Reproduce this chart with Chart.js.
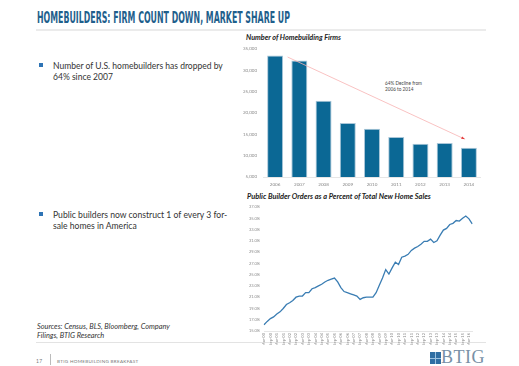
<!DOCTYPE html>
<html><head><meta charset="utf-8">
<script src="https://cdn.jsdelivr.net/npm/chart.js@4.4.1/dist/chart.umd.min.js"></script>
<style>
html,body{margin:0;padding:0;background:#fff;width:519px;height:366px;overflow:hidden;}
body{position:relative;font-family:Lato,'Open Sans',sans-serif;}
.abs{position:absolute;white-space:nowrap;}
#title{left:37px;top:11px;font-family:'Liberation Sans Narrow','DejaVu Sans Condensed','DejaVu Sans',sans-serif;font-stretch:condensed;font-weight:bold;font-size:15px;line-height:15px;color:#1f5f8c;transform-origin:0 0;}
#rule{left:36px;top:29px;width:450px;height:2px;background:#ebebeb;}
.bullet{width:4px;height:4px;background:#2e74b5;}
.btxt{font-size:8.6px;color:#333;line-height:11px;}
.ctitle{font-weight:bold;font-style:italic;color:#222;font-size:6.8px;line-height:8px;}
.note{font-size:4.6px;color:#444;line-height:6px;}
.src{font-style:italic;font-size:7.2px;color:#333;line-height:9px;}
#rule2{left:36px;top:342px;width:450px;height:1px;background:#e3e3e3;}
.foot{font-size:5px;color:#777;line-height:6px;letter-spacing:0.3px;}
#sep{left:50px;top:354px;width:1px;height:11px;background:#bbb;}
#logo{left:430px;top:352px;width:11px;height:12px;background:#2f6ea3;}
#logo .a{position:absolute;left:5px;top:0;width:1px;height:12px;background:#9cc2e0;}
#logo .b{position:absolute;left:0;top:6px;width:11px;height:1px;background:#9cc2e0;}
#logotxt{left:441px;top:348px;font-family:'Liberation Serif','DejaVu Serif',serif;font-size:18px;line-height:18px;color:#7890a6;letter-spacing:0.5px;}
canvas{position:absolute;}
</style></head>
<body>
<div id="title" class="abs">HOMEBUILDERS: FIRM COUNT DOWN, MARKET SHARE UP</div>
<div id="rule" class="abs"></div>

<div class="abs bullet" style="left:39px;top:63px;"></div>
<div class="abs btxt" data-w="170" style="left:53px;top:61px;">Number of U.S. homebuilders has dropped by</div>
<div class="abs btxt" style="left:53px;top:72px;">64% since 2007</div>

<div class="abs bullet" style="left:39px;top:212px;"></div>
<div class="abs btxt" style="left:53px;top:210px;">Public builders now construct 1 of every 3 for-</div>
<div class="abs btxt" style="left:53px;top:221px;">sale homes in America</div>

<div class="abs src" data-w="133" style="left:37px;top:322px;">Sources: Census, BLS, Bloomberg, Company</div>
<div class="abs src" style="left:37px;top:331px;">Filings, BTIG Research</div>
<div id="rule2" class="abs"></div>

<div class="abs foot" style="left:36px;top:358px;">17</div>
<div id="sep" class="abs"></div>
<div class="abs foot" data-w="81" style="left:57px;top:358px;">BTIG HOMEBUILDING BREAKFAST</div>
<div id="logo" class="abs"><div class="a"></div><div class="b"></div></div>
<div id="logotxt" class="abs">BTIG</div>

<div class="abs ctitle" data-w="95" style="left:246px;top:34px;">Number of Homebuilding Firms</div>
<div class="abs note" data-w="37" style="left:385px;top:80px;">64% Decline from</div>
<div class="abs note" style="left:385px;top:86px;">2006 to 2014</div>
<div class="abs ctitle" data-w="184" style="left:247px;top:193px;">Public Builder Orders as a Percent of Total New Home Sales</div>

<canvas id="bar" width="241" height="150" style="left:240px;top:40px;"></canvas>
<canvas id="line" width="239" height="145" style="left:240px;top:200px;"></canvas>

<script>
// ---- data ----
const years = ['2006','2007','2008','2009','2010','2011','2012','2013','2014'];
const firms = [33400, 32250, 22850, 17600, 16300, 14350, 12800, 12950, 11850];
const firmTickMin = 5000, firmTickMax = 35000, firmTickStep = 5000;

const quarters = [
 'Mar-00','Jun-00','Sep-00','Dec-00','Mar-01','Jun-01','Sep-01','Dec-01',
 'Mar-02','Jun-02','Sep-02','Dec-02','Mar-03','Jun-03','Sep-03','Dec-03',
 'Mar-04','Jun-04','Sep-04','Dec-04','Mar-05','Jun-05','Sep-05','Dec-05',
 'Mar-06','Jun-06','Sep-06','Dec-06','Mar-07','Jun-07','Sep-07','Dec-07',
 'Mar-08','Jun-08','Sep-08','Dec-08','Mar-09','Jun-09','Sep-09','Dec-09',
 'Mar-10','Jun-10','Sep-10','Dec-10','Mar-11','Jun-11','Sep-11','Dec-11',
 'Mar-12','Jun-12','Sep-12','Dec-12','Mar-13','Jun-13','Sep-13','Dec-13',
 'Mar-14','Jun-14','Sep-14','Dec-14','Mar-15','Jun-15','Sep-15','Dec-15',
 'Mar-16','Jun-16'];
const share = [
 16.1,16.7,17.2,17.5,18.0,18.4,19.0,19.7,20.0,20.4,21.0,21.2,21.2,21.8,21.8,22.5,
 22.7,23.0,23.3,23.7,24.0,24.2,24.4,23.7,22.7,22.0,21.8,21.6,21.4,21.2,20.6,20.9,
 21.0,21.0,21.0,21.8,23.1,24.4,25.9,25.1,26.2,27.2,26.8,28.1,28.3,28.6,29.3,29.7,
 30.0,30.4,30.9,30.9,31.3,30.7,31.0,32.0,32.9,33.2,33.9,34.1,34.6,34.5,35.0,35.4,
 34.9,34.0];
const shareTickMin = 15, shareTickMax = 37, shareTickStep = 2;

// ---- text fitting ----
document.querySelectorAll('[data-w]').forEach(el=>{
  const target = +el.dataset.w;
  const fs = parseFloat(getComputedStyle(el).fontSize);
  const w = el.getBoundingClientRect().width;
  const nfs = fs * target / w;
  el.style.fontSize = nfs + 'px';
  let nx = el.nextElementSibling;
  if (nx && nx.className === el.className && !nx.dataset.w) nx.style.fontSize = nfs + 'px';
});
(function(){
  const t = document.getElementById('title');
  const w = t.getBoundingClientRect().width;
  t.style.transform = 'scaleX(' + (253 / w) + ')';
})();

const FONT = "Lato, 'Open Sans', sans-serif";

const arrowPlugin = {
  id:'arrow',
  afterDatasetsDraw(c){
    const xs = c.scales.x, ys = c.scales.y, ctx = c.ctx;
    const x0 = xs.getPixelForValue(0) + 12.5, y0 = ys.getPixelForValue(firms[0]) + 1.5;
    const x1 = xs.getPixelForValue(years.length-1) - 5, y1 = ys.getPixelForValue(firms[years.length-1]) - 9;
    ctx.save();
    ctx.strokeStyle = '#f7b3b3';
    ctx.lineWidth = 0.8;
    ctx.beginPath(); ctx.moveTo(x0,y0); ctx.lineTo(x1,y1); ctx.stroke();
    const ang = Math.atan2(y1-y0, x1-x0);
    ctx.fillStyle = '#e53b3b';
    ctx.beginPath();
    ctx.moveTo(x1+1.5*Math.cos(ang), y1+1.5*Math.sin(ang));
    ctx.lineTo(x1-2.5*Math.cos(ang)+1.3*Math.sin(ang), y1-2.5*Math.sin(ang)-1.3*Math.cos(ang));
    ctx.lineTo(x1-2.5*Math.cos(ang)-1.3*Math.sin(ang), y1-2.5*Math.sin(ang)+1.3*Math.cos(ang));
    ctx.closePath(); ctx.fill();
    ctx.restore();
  }
};

new Chart(document.getElementById('bar'), {
  type:'bar',
  data:{labels:years, datasets:[{data:firms, backgroundColor:'#0b6895', borderColor:'#a9c6d8', borderWidth:1, barPercentage:0.66, categoryPercentage:1}]},
  options:{
    responsive:false, animation:false, devicePixelRatio:1,
    layout:{padding:{top:8,bottom:1,left:0,right:0}},
    plugins:{legend:{display:false}, tooltip:{enabled:false}},
    scales:{
      x:{grid:{display:false, drawTicks:false}, border:{color:'#e6e6e6'},
         ticks:{font:{size:4.6,family:FONT}, color:'#888', padding:5},
         afterFit(s){ s.height = 12; }},
      y:{min:firmTickMin, max:firmTickMax, grid:{display:false, drawTicks:false}, border:{display:false},
         ticks:{stepSize:firmTickStep, font:{size:4.5,family:FONT}, color:'#8a8a8a', padding:6,
                callback:v=>v.toLocaleString('en-US')},
         afterFit(s){ s.width = 23; }}
    }
  },
  plugins:[arrowPlugin]
});

new Chart(document.getElementById('line'), {
  type:'line',
  data:{labels:quarters, datasets:[{data:share, borderColor:'#3a7db3', borderWidth:1.3, pointRadius:0, tension:0, fill:false}]},
  options:{
    responsive:false, animation:false, devicePixelRatio:1,
    layout:{padding:{top:7,bottom:0,left:0,right:0.5}},
    plugins:{legend:{display:false}, tooltip:{enabled:false}},
    scales:{
      x:{grid:{display:false, drawTicks:false}, border:{color:'#e6e6e6'},
         ticks:{autoSkip:false, minRotation:90, maxRotation:90, font:{size:4,family:FONT}, color:'#8a8a8a', padding:2,
                callback:function(v,i){ return i % 2 === 0 ? quarters[i] : ''; }},
         afterFit(s){ s.height = 14; }},
      y:{min:shareTickMin, max:shareTickMax, grid:{display:false, drawTicks:false}, border:{display:false},
         ticks:{stepSize:shareTickStep, font:{size:4,family:FONT}, color:'#8a8a8a', padding:4,
                callback:v=>v.toFixed(1)+'%'},
         afterFit(s){ s.width = 24; }}
    }
  }
});
</script>
</body></html>
